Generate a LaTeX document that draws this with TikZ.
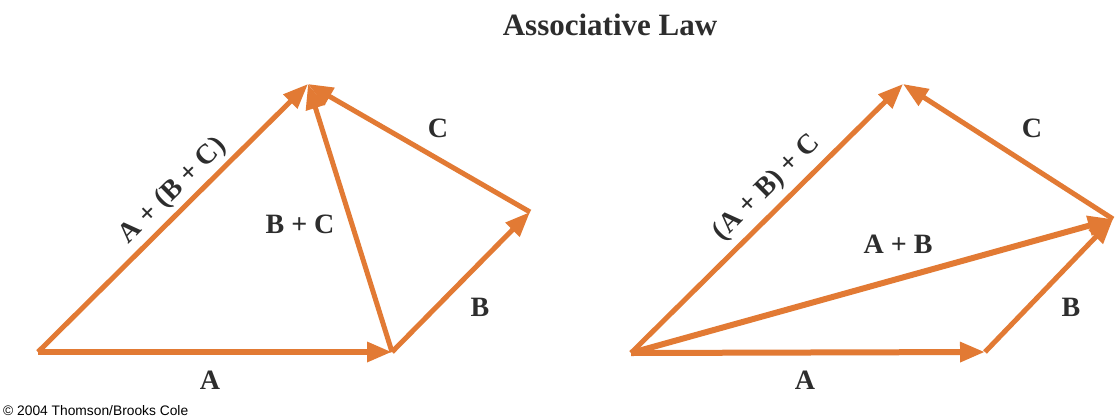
\documentclass[tikz,border=0pt]{standalone}
\usepackage{fontspec}
\setmainfont{Liberation Serif}
\setsansfont{Liberation Sans}
\usetikzlibrary{arrows.meta}
\definecolor{vecorange}{RGB}{226,122,52}
\definecolor{labgray}{RGB}{45,45,45}

\begin{document}
\begin{tikzpicture}[
    x=1pt,
    y=-1pt,
    vec/.style={-{Triangle[length=25pt,width=19pt]}, line width=5pt, draw=vecorange},
    lab/.style={font=\fontsize{28}{28}\selectfont\bfseries, text=labgray, inner sep=0pt}
]

\fill[white] (0,0) rectangle (1115,418);
\useasboundingbox (0,0) rectangle (1115,418);

\node[font=\fontsize{31}{31}\selectfont\bfseries, text=labgray] (title) at (610,25) {Associative Law};

% left: A + (B + C)
\coordinate (lo) at (38,352);
\coordinate (la) at (392,352);
\coordinate (lb) at (530,212);
\coordinate (lc) at (308,84);

\draw[vec, line width=6pt] (lo) -- (la);
\draw[vec] (la) -- (lb);
\draw[vec] (lb) -- (lc);
\draw[vec] (la) -- (lc);
\draw[vec] (lo) -- (lc);

\node[lab] (lA) at (210,380) {A};
\node[lab] (lB) at (480,307) {B};
\node[lab] (lC) at (438,128) {C};
\node[lab] (lBC) at (300,224) {B + C};
\node[lab, rotate=44.7] (lsum) at (173,191) {A + (B + C)};

% right: (A + B) + C
\coordinate (ro) at (631,353);
\coordinate (ra) at (985,352);
\coordinate (rb) at (1113,219);
\coordinate (rc) at (903,84);

\draw[vec, line width=6pt] (ro) -- (ra);
\draw[vec] (ra) -- (rb);
\draw[vec] (rb) -- (rc);
\draw[vec, line width=6pt] (ro) -- (rb);
\draw[vec] (ro) -- (rc);

\node[lab] (rA) at (805,380) {A};
\node[lab] (rB) at (1071,307) {B};
\node[lab] (rC) at (1032,128) {C};
\node[lab] (rAB) at (898,244) {A + B};
\node[lab, rotate=44.8] (rsum) at (767,188) {(A + B) + C};

\node[font=\sffamily\fontsize{13.8}{13.8}\selectfont, anchor=west, inner sep=0pt] (copy) at (3,411) {© 2004 Thomson/Brooks Cole};

\end{tikzpicture}
\end{document}
